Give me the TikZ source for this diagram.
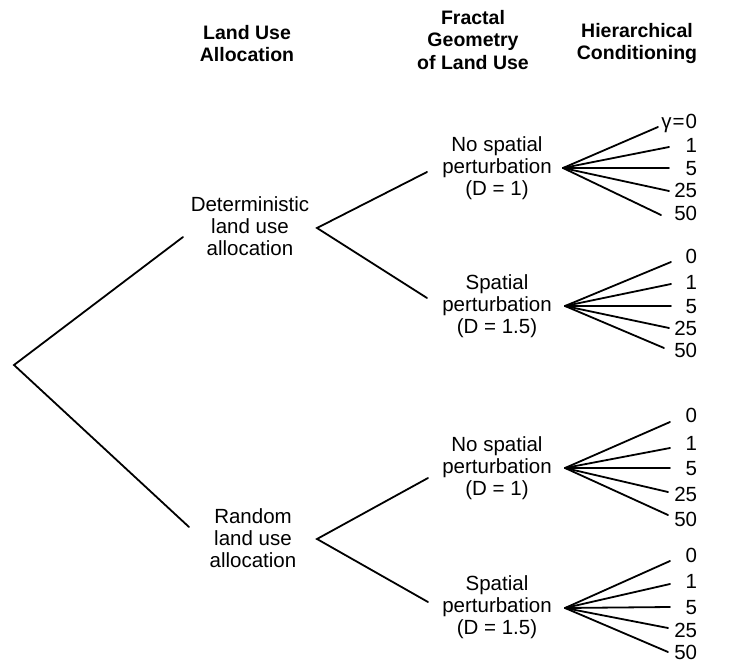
\documentclass[tikz,border=0pt]{standalone}
\usepackage{fontspec}
\setmainfont{Liberation Sans}
\begin{document}
\begin{tikzpicture}[x=1pt,y=-1pt, line width=1.8pt, line cap=round, line join=miter,
  lbl/.style={font=\fontsize{20.5}{22}\selectfont, align=center, inner sep=0pt},
  hdr/.style={font=\bfseries\fontsize{19.5}{22.5}\selectfont, align=center, inner sep=0pt},
  num/.style={font=\fontsize{20.5}{22}\selectfont, anchor=base east, inner sep=0pt}]
\useasboundingbox (0,0) rectangle (741,663);
% headers
\node[hdr] (h1) at (247,43.5) {Land Use\\Allocation};
\node[hdr] (h2) at (473,40) {Fractal\\Geometry\\of Land Use};
\node[hdr] (h3) at (637,43.5) {Hierarchical\\Conditioning};
% level 1
\node[lbl] (det) at (250,226) {Deterministic\\land use\\allocation};
\node[lbl] (ran) at (253,538) {Random\\land use\\allocation};
% level 2
\node[lbl] (n1) at (497,168) {No spatial\\perturbation\\(D = 1)};
\node[lbl] (s1) at (497,306) {Spatial\\perturbation\\(D = 1.5)};
\node[lbl] (n2) at (497,468) {No spatial\\perturbation\\(D = 1)};
\node[lbl] (s2) at (497,607) {Spatial\\perturbation\\(D = 1.5)};
% root branches
\coordinate (root) at (14,365);
\coordinate (rdet) at (183,237);
\coordinate (rran) at (189,527);
\draw (rdet) -- (root) -- (rran);
\coordinate (vdet) at (317,228);
\coordinate (dn) at (427,172);
\coordinate (ds) at (427,298);
\draw (dn) -- (vdet) -- (ds);
\coordinate (vran) at (317,539);
\coordinate (rn) at (428,478);
\coordinate (rs) at (428,602);
\draw (rn) -- (vran) -- (rs);
% fan 1
\coordinate (f1) at (563,168);
\foreach \i/\ex/\ey/\ly/\t in {a/658/127/122/{γ\kern1pt=\kern1pt0}, b/669/147/146/1, c/669/168/169/5, d/669/191/190/25, e/661/215/213/50}{
  \node[num] (f1\i) at (698,{\ly+7}) {\t};
  \coordinate (e1\i) at (\ex,\ey);
  \draw (f1) -- (e1\i);
}
% fan 2
\coordinate (f2) at (565,306);
\foreach \i/\ex/\ey/\ly/\t in {a/671/262/256/0, b/671/284/282/1, c/671/306/306/5, d/669/328/328/25, e/664/348/350/50}{
  \node[num] (f2\i) at (698,{\ly+7}) {\t};
  \coordinate (e2\i) at (\ex,\ey);
  \draw (f2) -- (e2\i);
}
% fan 3
\coordinate (f3) at (565,468);
\foreach \i/\ex/\ey/\ly/\t in {a/670/422/415/0, b/670/448/443/1, c/670/468/468/5, d/668/492/494/25, e/668/515/519/50}{
  \node[num] (f3\i) at (698,{\ly+7}) {\t};
  \coordinate (e3\i) at (\ex,\ey);
  \draw (f3) -- (e3\i);
}
% fan 4
\coordinate (f4) at (565,608);
\foreach \i/\ex/\ey/\ly/\t in {a/670/561/555/0, b/670/584/581/1, c/670/607/607/5, d/668/628/630/25, e/668/652/652/50}{
  \node[num] (f4\i) at (698,{\ly+7}) {\t};
  \coordinate (e4\i) at (\ex,\ey);
  \draw (f4) -- (e4\i);
}
\end{tikzpicture}
\end{document}
